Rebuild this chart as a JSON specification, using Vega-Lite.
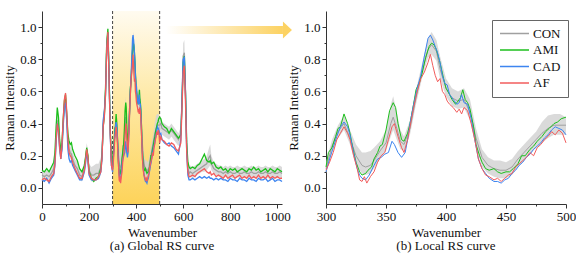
{
  "$schema": "https://vega.github.io/schema/vega-lite/v6.json",
  "autosize": {"type": "pad"},
  "padding": {"left": 3, "top": 10, "right": 0, "bottom": 0},
  "background": "white",
  "config": {
    "view": {"stroke": null},
    "font": "Liberation Serif",
    "axis": {"grid": false, "domainColor": "#333", "tickColor": "#333", "labelFont": "Liberation Serif", "labelFontSize": 13, "labelColor": "#111", "titleFont": "Liberation Serif", "titleFontSize": 13, "titleFontWeight": "normal", "titleColor": "#111", "labelPadding": 2, "titlePadding": 3, "labelOverlap": false, "labelFlush": false},
    "legend": {"labelFont": "Liberation Serif"},
    "title": {"font": "Liberation Serif", "fontSize": 13, "fontWeight": "normal", "color": "#111"}
  },
  "datasets": {
    "spec": [
      {"w":0,"s":"CON","v":0.08,"lo":0.05,"hi":0.11},{"w":10,"s":"CON","v":0.07,"lo":0.04,"hi":0.10},{"w":20,"s":"CON","v":0.08,"lo":0.05,"hi":0.11},{"w":30,"s":"CON","v":0.07,"lo":0.04,"hi":0.10},{"w":40,"s":"CON","v":0.09,"lo":0.06,"hi":0.12},{"w":50,"s":"CON","v":0.12,"lo":0.09,"hi":0.15},{"w":55,"s":"CON","v":0.18,"lo":0.15,"hi":0.21},{"w":60,"s":"CON","v":0.30,"lo":0.26,"hi":0.35},{"w":65,"s":"CON","v":0.42,"lo":0.37,"hi":0.47},{"w":70,"s":"CON","v":0.38,"lo":0.33,"hi":0.43},{"w":75,"s":"CON","v":0.26,"lo":0.22,"hi":0.30},{"w":80,"s":"CON","v":0.20,"lo":0.17,"hi":0.24},{"w":85,"s":"CON","v":0.25,"lo":0.21,"hi":0.29},{"w":90,"s":"CON","v":0.40,"lo":0.36,"hi":0.44},{"w":95,"s":"CON","v":0.52,"lo":0.48,"hi":0.56},{"w":100,"s":"CON","v":0.56,"lo":0.52,"hi":0.60},{"w":105,"s":"CON","v":0.45,"lo":0.41,"hi":0.49},{"w":110,"s":"CON","v":0.30,"lo":0.26,"hi":0.34},{"w":115,"s":"CON","v":0.24,"lo":0.20,"hi":0.28},{"w":120,"s":"CON","v":0.22,"lo":0.18,"hi":0.26},{"w":125,"s":"CON","v":0.21,"lo":0.17,"hi":0.25},{"w":130,"s":"CON","v":0.18,"lo":0.14,"hi":0.22},{"w":140,"s":"CON","v":0.14,"lo":0.10,"hi":0.18},{"w":150,"s":"CON","v":0.12,"lo":0.08,"hi":0.16},{"w":160,"s":"CON","v":0.08,"lo":0.05,"hi":0.12},{"w":170,"s":"CON","v":0.07,"lo":0.04,"hi":0.11},{"w":180,"s":"CON","v":0.12,"lo":0.09,"hi":0.16},{"w":185,"s":"CON","v":0.18,"lo":0.15,"hi":0.22},{"w":190,"s":"CON","v":0.24,"lo":0.21,"hi":0.28},{"w":195,"s":"CON","v":0.20,"lo":0.17,"hi":0.24},{"w":200,"s":"CON","v":0.11,"lo":0.07,"hi":0.15},{"w":210,"s":"CON","v":0.08,"lo":0.04,"hi":0.13},{"w":220,"s":"CON","v":0.08,"lo":0.04,"hi":0.14},{"w":230,"s":"CON","v":0.09,"lo":0.05,"hi":0.15},{"w":240,"s":"CON","v":0.09,"lo":0.05,"hi":0.15},{"w":250,"s":"CON","v":0.13,"lo":0.08,"hi":0.19},{"w":255,"s":"CON","v":0.20,"lo":0.15,"hi":0.26},{"w":260,"s":"CON","v":0.40,"lo":0.35,"hi":0.45},{"w":265,"s":"CON","v":0.46,"lo":0.41,"hi":0.50},{"w":270,"s":"CON","v":0.60,"lo":0.55,"hi":0.65},{"w":275,"s":"CON","v":0.88,"lo":0.84,"hi":0.93},{"w":280,"s":"CON","v":0.97,"lo":0.93,"hi":1.00},{"w":285,"s":"CON","v":0.70,"lo":0.65,"hi":0.75},{"w":290,"s":"CON","v":0.35,"lo":0.31,"hi":0.40},{"w":295,"s":"CON","v":0.16,"lo":0.12,"hi":0.20},
      {"w":300,"s":"CON","v":0.12,"lo":0.09,"hi":0.16},{"w":305,"s":"CON","v":0.26,"lo":0.22,"hi":0.30},{"w":310,"s":"CON","v":0.35,"lo":0.31,"hi":0.39},{"w":315,"s":"CON","v":0.40,"lo":0.36,"hi":0.45},{"w":320,"s":"CON","v":0.31,"lo":0.27,"hi":0.36},{"w":325,"s":"CON","v":0.20,"lo":0.14,"hi":0.27},{"w":330,"s":"CON","v":0.14,"lo":0.09,"hi":0.22},{"w":333,"s":"CON","v":0.13,"lo":0.08,"hi":0.22},{"w":337,"s":"CON","v":0.14,"lo":0.09,"hi":0.23},{"w":340,"s":"CON","v":0.17,"lo":0.12,"hi":0.25},{"w":345,"s":"CON","v":0.23,"lo":0.18,"hi":0.29},{"w":350,"s":"CON","v":0.28,"lo":0.23,"hi":0.36},{"w":354,"s":"CON","v":0.40,"lo":0.32,"hi":0.52},{"w":356,"s":"CON","v":0.44,"lo":0.36,"hi":0.57},{"w":359,"s":"CON","v":0.37,"lo":0.30,"hi":0.47},{"w":362,"s":"CON","v":0.29,"lo":0.24,"hi":0.36},{"w":365,"s":"CON","v":0.27,"lo":0.23,"hi":0.32},{"w":370,"s":"CON","v":0.37,"lo":0.33,"hi":0.42},{"w":375,"s":"CON","v":0.56,"lo":0.52,"hi":0.61},{"w":380,"s":"CON","v":0.72,"lo":0.68,"hi":0.77},{"w":385,"s":"CON","v":0.86,"lo":0.81,"hi":0.93},{"w":388,"s":"CON","v":0.89,"lo":0.83,"hi":0.97},{"w":392,"s":"CON","v":0.85,"lo":0.79,"hi":0.92},{"w":395,"s":"CON","v":0.74,"lo":0.68,"hi":0.82},{"w":400,"s":"CON","v":0.62,"lo":0.57,"hi":0.68},{"w":405,"s":"CON","v":0.56,"lo":0.51,"hi":0.62},{"w":410,"s":"CON","v":0.54,"lo":0.49,"hi":0.60},{"w":415,"s":"CON","v":0.55,"lo":0.50,"hi":0.62},{"w":420,"s":"CON","v":0.47,"lo":0.42,"hi":0.55},{"w":425,"s":"CON","v":0.31,"lo":0.25,"hi":0.37},{"w":430,"s":"CON","v":0.19,"lo":0.13,"hi":0.24},{"w":435,"s":"CON","v":0.14,"lo":0.09,"hi":0.19},{"w":440,"s":"CON","v":0.12,"lo":0.07,"hi":0.17},{"w":445,"s":"CON","v":0.11,"lo":0.06,"hi":0.17},{"w":450,"s":"CON","v":0.11,"lo":0.06,"hi":0.16},{"w":455,"s":"CON","v":0.13,"lo":0.08,"hi":0.18},{"w":460,"s":"CON","v":0.18,"lo":0.13,"hi":0.23},{"w":465,"s":"CON","v":0.22,"lo":0.17,"hi":0.27},{"w":470,"s":"CON","v":0.26,"lo":0.21,"hi":0.31},{"w":475,"s":"CON","v":0.30,"lo":0.25,"hi":0.35},{"w":480,"s":"CON","v":0.34,"lo":0.28,"hi":0.41},{"w":485,"s":"CON","v":0.37,"lo":0.31,"hi":0.45},{"w":490,"s":"CON","v":0.39,"lo":0.33,"hi":0.46},{"w":495,"s":"CON","v":0.39,"lo":0.33,"hi":0.46},{"w":500,"s":"CON","v":0.39,"lo":0.33,"hi":0.44},
      {"w":505,"s":"CON","v":0.40,"lo":0.36,"hi":0.44},{"w":510,"s":"CON","v":0.37,"lo":0.33,"hi":0.41},{"w":520,"s":"CON","v":0.36,"lo":0.32,"hi":0.40},{"w":530,"s":"CON","v":0.35,"lo":0.31,"hi":0.39},{"w":540,"s":"CON","v":0.34,"lo":0.30,"hi":0.38},{"w":550,"s":"CON","v":0.36,"lo":0.32,"hi":0.40},{"w":560,"s":"CON","v":0.34,"lo":0.30,"hi":0.38},{"w":570,"s":"CON","v":0.32,"lo":0.28,"hi":0.36},{"w":580,"s":"CON","v":0.30,"lo":0.26,"hi":0.34},{"w":590,"s":"CON","v":0.34,"lo":0.30,"hi":0.38},{"w":595,"s":"CON","v":0.55,"lo":0.50,"hi":0.60},{"w":600,"s":"CON","v":0.82,"lo":0.76,"hi":0.90},{"w":605,"s":"CON","v":0.84,"lo":0.78,"hi":0.92},{"w":610,"s":"CON","v":0.60,"lo":0.55,"hi":0.66},{"w":615,"s":"CON","v":0.25,"lo":0.21,"hi":0.30},{"w":620,"s":"CON","v":0.12,"lo":0.09,"hi":0.16},{"w":625,"s":"CON","v":0.09,"lo":0.06,"hi":0.13},{"w":630,"s":"CON","v":0.10,"lo":0.07,"hi":0.14},{"w":640,"s":"CON","v":0.09,"lo":0.06,"hi":0.13},{"w":650,"s":"CON","v":0.10,"lo":0.07,"hi":0.14},{"w":660,"s":"CON","v":0.11,"lo":0.08,"hi":0.15},{"w":670,"s":"CON","v":0.12,"lo":0.09,"hi":0.16},{"w":680,"s":"CON","v":0.13,"lo":0.10,"hi":0.17},{"w":690,"s":"CON","v":0.14,"lo":0.10,"hi":0.18},{"w":700,"s":"CON","v":0.15,"lo":0.11,"hi":0.20},{"w":710,"s":"CON","v":0.19,"lo":0.13,"hi":0.25},{"w":715,"s":"CON","v":0.20,"lo":0.14,"hi":0.27},{"w":720,"s":"CON","v":0.15,"lo":0.11,"hi":0.20},{"w":730,"s":"CON","v":0.12,"lo":0.09,"hi":0.16},{"w":740,"s":"CON","v":0.11,"lo":0.08,"hi":0.15},{"w":750,"s":"CON","v":0.10,"lo":0.07,"hi":0.14},{"w":760,"s":"CON","v":0.10,"lo":0.07,"hi":0.14},{"w":770,"s":"CON","v":0.09,"lo":0.06,"hi":0.13},{"w":780,"s":"CON","v":0.10,"lo":0.07,"hi":0.14},{"w":790,"s":"CON","v":0.09,"lo":0.06,"hi":0.13},{"w":800,"s":"CON","v":0.10,"lo":0.07,"hi":0.14},{"w":810,"s":"CON","v":0.09,"lo":0.06,"hi":0.13},{"w":820,"s":"CON","v":0.09,"lo":0.06,"hi":0.13},{"w":830,"s":"CON","v":0.10,"lo":0.07,"hi":0.14},{"w":840,"s":"CON","v":0.09,"lo":0.06,"hi":0.13},{"w":850,"s":"CON","v":0.09,"lo":0.06,"hi":0.13},{"w":860,"s":"CON","v":0.10,"lo":0.07,"hi":0.14},{"w":870,"s":"CON","v":0.09,"lo":0.06,"hi":0.13},{"w":880,"s":"CON","v":0.09,"lo":0.06,"hi":0.13},{"w":890,"s":"CON","v":0.10,"lo":0.07,"hi":0.14},{"w":900,"s":"CON","v":0.09,"lo":0.06,"hi":0.13},{"w":910,"s":"CON","v":0.09,"lo":0.06,"hi":0.13},{"w":920,"s":"CON","v":0.10,"lo":0.07,"hi":0.14},{"w":930,"s":"CON","v":0.09,"lo":0.06,"hi":0.13},{"w":940,"s":"CON","v":0.09,"lo":0.06,"hi":0.13},{"w":950,"s":"CON","v":0.10,"lo":0.07,"hi":0.14},{"w":960,"s":"CON","v":0.09,"lo":0.06,"hi":0.13},{"w":970,"s":"CON","v":0.09,"lo":0.06,"hi":0.13},{"w":980,"s":"CON","v":0.10,"lo":0.07,"hi":0.14},{"w":990,"s":"CON","v":0.09,"lo":0.06,"hi":0.13},{"w":1000,"s":"CON","v":0.09,"lo":0.06,"hi":0.13},{"w":1010,"s":"CON","v":0.10,"lo":0.07,"hi":0.14},{"w":1020,"s":"CON","v":0.09,"lo":0.06,"hi":0.13},

      {"w":0,"s":"AMI","v":0.11},{"w":10,"s":"AMI","v":0.10},{"w":20,"s":"AMI","v":0.12},{"w":30,"s":"AMI","v":0.10},{"w":40,"s":"AMI","v":0.13},{"w":50,"s":"AMI","v":0.16},{"w":55,"s":"AMI","v":0.22},{"w":60,"s":"AMI","v":0.38},{"w":65,"s":"AMI","v":0.50},{"w":70,"s":"AMI","v":0.44},{"w":75,"s":"AMI","v":0.30},{"w":80,"s":"AMI","v":0.23},{"w":85,"s":"AMI","v":0.28},{"w":90,"s":"AMI","v":0.42},{"w":95,"s":"AMI","v":0.54},{"w":100,"s":"AMI","v":0.58},{"w":105,"s":"AMI","v":0.46},{"w":110,"s":"AMI","v":0.34},{"w":115,"s":"AMI","v":0.29},{"w":120,"s":"AMI","v":0.27},{"w":125,"s":"AMI","v":0.28},{"w":130,"s":"AMI","v":0.24},{"w":140,"s":"AMI","v":0.20},{"w":150,"s":"AMI","v":0.17},{"w":160,"s":"AMI","v":0.12},{"w":170,"s":"AMI","v":0.10},{"w":180,"s":"AMI","v":0.14},{"w":185,"s":"AMI","v":0.19},{"w":190,"s":"AMI","v":0.25},{"w":195,"s":"AMI","v":0.20},{"w":200,"s":"AMI","v":0.10},{"w":210,"s":"AMI","v":0.06},{"w":220,"s":"AMI","v":0.04},{"w":230,"s":"AMI","v":0.06},{"w":240,"s":"AMI","v":0.07},{"w":250,"s":"AMI","v":0.12},{"w":255,"s":"AMI","v":0.20},{"w":260,"s":"AMI","v":0.38},{"w":265,"s":"AMI","v":0.45},{"w":270,"s":"AMI","v":0.62},{"w":275,"s":"AMI","v":0.90},{"w":280,"s":"AMI","v":0.99},{"w":285,"s":"AMI","v":0.72},{"w":290,"s":"AMI","v":0.37},{"w":295,"s":"AMI","v":0.17},
      {"w":300,"s":"AMI","v":0.13},{"w":302,"s":"AMI","v":0.22},{"w":305,"s":"AMI","v":0.25},{"w":308,"s":"AMI","v":0.32},{"w":310,"s":"AMI","v":0.37},{"w":312,"s":"AMI","v":0.38},{"w":315,"s":"AMI","v":0.46},{"w":318,"s":"AMI","v":0.40},{"w":320,"s":"AMI","v":0.34},{"w":322,"s":"AMI","v":0.26},{"w":325,"s":"AMI","v":0.16},{"w":328,"s":"AMI","v":0.10},{"w":330,"s":"AMI","v":0.08},{"w":333,"s":"AMI","v":0.09},{"w":335,"s":"AMI","v":0.11},{"w":338,"s":"AMI","v":0.13},{"w":340,"s":"AMI","v":0.18},{"w":343,"s":"AMI","v":0.22},{"w":345,"s":"AMI","v":0.26},{"w":347,"s":"AMI","v":0.27},{"w":350,"s":"AMI","v":0.36},{"w":353,"s":"AMI","v":0.48},{"w":356,"s":"AMI","v":0.53},{"w":358,"s":"AMI","v":0.50},{"w":360,"s":"AMI","v":0.40},{"w":363,"s":"AMI","v":0.30},{"w":365,"s":"AMI","v":0.29},{"w":368,"s":"AMI","v":0.34},{"w":370,"s":"AMI","v":0.40},{"w":373,"s":"AMI","v":0.52},{"w":375,"s":"AMI","v":0.61},{"w":378,"s":"AMI","v":0.66},{"w":380,"s":"AMI","v":0.71},{"w":383,"s":"AMI","v":0.81},{"w":386,"s":"AMI","v":0.88},{"w":388,"s":"AMI","v":0.90},{"w":390,"s":"AMI","v":0.89},{"w":392,"s":"AMI","v":0.86},{"w":395,"s":"AMI","v":0.78},{"w":398,"s":"AMI","v":0.68},{"w":400,"s":"AMI","v":0.62},{"w":403,"s":"AMI","v":0.58},{"w":405,"s":"AMI","v":0.55},{"w":408,"s":"AMI","v":0.52},{"w":410,"s":"AMI","v":0.54},{"w":412,"s":"AMI","v":0.56},{"w":414,"s":"AMI","v":0.61},{"w":416,"s":"AMI","v":0.55},{"w":418,"s":"AMI","v":0.53},{"w":420,"s":"AMI","v":0.49},{"w":423,"s":"AMI","v":0.38},{"w":425,"s":"AMI","v":0.27},{"w":428,"s":"AMI","v":0.20},{"w":430,"s":"AMI","v":0.16},{"w":433,"s":"AMI","v":0.12},{"w":436,"s":"AMI","v":0.11},{"w":440,"s":"AMI","v":0.12},{"w":443,"s":"AMI","v":0.10},{"w":446,"s":"AMI","v":0.09},{"w":450,"s":"AMI","v":0.10},{"w":453,"s":"AMI","v":0.10},{"w":456,"s":"AMI","v":0.12},{"w":460,"s":"AMI","v":0.15},{"w":463,"s":"AMI","v":0.20},{"w":466,"s":"AMI","v":0.20},{"w":470,"s":"AMI","v":0.24},{"w":473,"s":"AMI","v":0.26},{"w":476,"s":"AMI","v":0.29},{"w":480,"s":"AMI","v":0.32},{"w":483,"s":"AMI","v":0.35},{"w":486,"s":"AMI","v":0.37},{"w":490,"s":"AMI","v":0.40},{"w":493,"s":"AMI","v":0.41},{"w":496,"s":"AMI","v":0.43},{"w":500,"s":"AMI","v":0.44},
      {"w":505,"s":"AMI","v":0.43},{"w":510,"s":"AMI","v":0.40},{"w":520,"s":"AMI","v":0.38},{"w":530,"s":"AMI","v":0.37},{"w":540,"s":"AMI","v":0.34},{"w":550,"s":"AMI","v":0.37},{"w":560,"s":"AMI","v":0.35},{"w":570,"s":"AMI","v":0.33},{"w":580,"s":"AMI","v":0.31},{"w":590,"s":"AMI","v":0.33},{"w":595,"s":"AMI","v":0.52},{"w":600,"s":"AMI","v":0.78},{"w":605,"s":"AMI","v":0.82},{"w":610,"s":"AMI","v":0.58},{"w":615,"s":"AMI","v":0.28},{"w":620,"s":"AMI","v":0.16},{"w":625,"s":"AMI","v":0.13},{"w":630,"s":"AMI","v":0.12},{"w":640,"s":"AMI","v":0.13},{"w":650,"s":"AMI","v":0.12},{"w":660,"s":"AMI","v":0.14},{"w":670,"s":"AMI","v":0.15},{"w":680,"s":"AMI","v":0.18},{"w":690,"s":"AMI","v":0.21},{"w":700,"s":"AMI","v":0.17},{"w":710,"s":"AMI","v":0.16},{"w":715,"s":"AMI","v":0.17},{"w":720,"s":"AMI","v":0.15},{"w":730,"s":"AMI","v":0.16},{"w":740,"s":"AMI","v":0.13},{"w":750,"s":"AMI","v":0.12},{"w":760,"s":"AMI","v":0.13},{"w":770,"s":"AMI","v":0.11},{"w":780,"s":"AMI","v":0.12},{"w":790,"s":"AMI","v":0.10},{"w":800,"s":"AMI","v":0.12},{"w":810,"s":"AMI","v":0.11},{"w":820,"s":"AMI","v":0.12},{"w":830,"s":"AMI","v":0.10},{"w":840,"s":"AMI","v":0.11},{"w":850,"s":"AMI","v":0.12},{"w":860,"s":"AMI","v":0.11},{"w":870,"s":"AMI","v":0.10},{"w":880,"s":"AMI","v":0.12},{"w":890,"s":"AMI","v":0.11},{"w":900,"s":"AMI","v":0.13},{"w":910,"s":"AMI","v":0.11},{"w":920,"s":"AMI","v":0.12},{"w":930,"s":"AMI","v":0.10},{"w":940,"s":"AMI","v":0.11},{"w":950,"s":"AMI","v":0.12},{"w":960,"s":"AMI","v":0.10},{"w":970,"s":"AMI","v":0.12},{"w":980,"s":"AMI","v":0.11},{"w":990,"s":"AMI","v":0.10},{"w":1000,"s":"AMI","v":0.12},{"w":1010,"s":"AMI","v":0.11},{"w":1020,"s":"AMI","v":0.10},

      {"w":0,"s":"CAD","v":0.05},{"w":10,"s":"CAD","v":0.04},{"w":20,"s":"CAD","v":0.06},{"w":30,"s":"CAD","v":0.03},{"w":40,"s":"CAD","v":0.06},{"w":50,"s":"CAD","v":0.08},{"w":55,"s":"CAD","v":0.14},{"w":60,"s":"CAD","v":0.28},{"w":65,"s":"CAD","v":0.40},{"w":70,"s":"CAD","v":0.36},{"w":75,"s":"CAD","v":0.24},{"w":80,"s":"CAD","v":0.18},{"w":85,"s":"CAD","v":0.24},{"w":90,"s":"CAD","v":0.38},{"w":95,"s":"CAD","v":0.50},{"w":100,"s":"CAD","v":0.53},{"w":105,"s":"CAD","v":0.42},{"w":110,"s":"CAD","v":0.24},{"w":115,"s":"CAD","v":0.18},{"w":120,"s":"CAD","v":0.16},{"w":125,"s":"CAD","v":0.17},{"w":130,"s":"CAD","v":0.14},{"w":140,"s":"CAD","v":0.11},{"w":150,"s":"CAD","v":0.08},{"w":160,"s":"CAD","v":0.05},{"w":170,"s":"CAD","v":0.05},{"w":180,"s":"CAD","v":0.10},{"w":185,"s":"CAD","v":0.15},{"w":190,"s":"CAD","v":0.22},{"w":195,"s":"CAD","v":0.17},{"w":200,"s":"CAD","v":0.08},{"w":210,"s":"CAD","v":0.05},{"w":220,"s":"CAD","v":0.05},{"w":230,"s":"CAD","v":0.05},{"w":240,"s":"CAD","v":0.06},{"w":250,"s":"CAD","v":0.10},{"w":255,"s":"CAD","v":0.18},{"w":260,"s":"CAD","v":0.42},{"w":265,"s":"CAD","v":0.48},{"w":270,"s":"CAD","v":0.58},{"w":275,"s":"CAD","v":0.86},{"w":280,"s":"CAD","v":0.96},{"w":285,"s":"CAD","v":0.70},{"w":290,"s":"CAD","v":0.33},{"w":295,"s":"CAD","v":0.14},
      {"w":300,"s":"CAD","v":0.10},{"w":303,"s":"CAD","v":0.18},{"w":306,"s":"CAD","v":0.25},{"w":309,"s":"CAD","v":0.32},{"w":312,"s":"CAD","v":0.38},{"w":315,"s":"CAD","v":0.41},{"w":318,"s":"CAD","v":0.38},{"w":320,"s":"CAD","v":0.33},{"w":323,"s":"CAD","v":0.22},{"w":326,"s":"CAD","v":0.12},{"w":328,"s":"CAD","v":0.08},{"w":330,"s":"CAD","v":0.06},{"w":333,"s":"CAD","v":0.05},{"w":336,"s":"CAD","v":0.08},{"w":340,"s":"CAD","v":0.14},{"w":343,"s":"CAD","v":0.18},{"w":346,"s":"CAD","v":0.19},{"w":349,"s":"CAD","v":0.21},{"w":352,"s":"CAD","v":0.22},{"w":355,"s":"CAD","v":0.29},{"w":357,"s":"CAD","v":0.27},{"w":360,"s":"CAD","v":0.22},{"w":363,"s":"CAD","v":0.19},{"w":366,"s":"CAD","v":0.22},{"w":368,"s":"CAD","v":0.30},{"w":370,"s":"CAD","v":0.40},{"w":373,"s":"CAD","v":0.52},{"w":376,"s":"CAD","v":0.62},{"w":379,"s":"CAD","v":0.70},{"w":382,"s":"CAD","v":0.82},{"w":385,"s":"CAD","v":0.93},{"w":387,"s":"CAD","v":0.95},{"w":389,"s":"CAD","v":0.92},{"w":391,"s":"CAD","v":0.88},{"w":393,"s":"CAD","v":0.84},{"w":395,"s":"CAD","v":0.78},{"w":397,"s":"CAD","v":0.70},{"w":399,"s":"CAD","v":0.65},{"w":401,"s":"CAD","v":0.64},{"w":403,"s":"CAD","v":0.58},{"w":406,"s":"CAD","v":0.55},{"w":409,"s":"CAD","v":0.52},{"w":411,"s":"CAD","v":0.53},{"w":413,"s":"CAD","v":0.58},{"w":415,"s":"CAD","v":0.53},{"w":418,"s":"CAD","v":0.52},{"w":421,"s":"CAD","v":0.43},{"w":424,"s":"CAD","v":0.30},{"w":427,"s":"CAD","v":0.18},{"w":430,"s":"CAD","v":0.12},{"w":433,"s":"CAD","v":0.09},{"w":436,"s":"CAD","v":0.06},{"w":440,"s":"CAD","v":0.04},{"w":443,"s":"CAD","v":0.04},{"w":446,"s":"CAD","v":0.03},{"w":449,"s":"CAD","v":0.05},{"w":452,"s":"CAD","v":0.06},{"w":455,"s":"CAD","v":0.09},{"w":458,"s":"CAD","v":0.11},{"w":461,"s":"CAD","v":0.14},{"w":464,"s":"CAD","v":0.16},{"w":467,"s":"CAD","v":0.19},{"w":470,"s":"CAD","v":0.21},{"w":473,"s":"CAD","v":0.24},{"w":476,"s":"CAD","v":0.26},{"w":479,"s":"CAD","v":0.28},{"w":482,"s":"CAD","v":0.31},{"w":485,"s":"CAD","v":0.33},{"w":488,"s":"CAD","v":0.36},{"w":491,"s":"CAD","v":0.38},{"w":494,"s":"CAD","v":0.37},{"w":497,"s":"CAD","v":0.36},{"w":500,"s":"CAD","v":0.33},
      {"w":505,"s":"CAD","v":0.34},{"w":510,"s":"CAD","v":0.30},{"w":520,"s":"CAD","v":0.28},{"w":530,"s":"CAD","v":0.27},{"w":540,"s":"CAD","v":0.28},{"w":550,"s":"CAD","v":0.26},{"w":560,"s":"CAD","v":0.25},{"w":570,"s":"CAD","v":0.23},{"w":580,"s":"CAD","v":0.21},{"w":590,"s":"CAD","v":0.30},{"w":595,"s":"CAD","v":0.55},{"w":600,"s":"CAD","v":0.80},{"w":605,"s":"CAD","v":0.81},{"w":610,"s":"CAD","v":0.58},{"w":615,"s":"CAD","v":0.22},{"w":620,"s":"CAD","v":0.08},{"w":625,"s":"CAD","v":0.05},{"w":630,"s":"CAD","v":0.05},{"w":640,"s":"CAD","v":0.06},{"w":650,"s":"CAD","v":0.05},{"w":660,"s":"CAD","v":0.06},{"w":670,"s":"CAD","v":0.07},{"w":680,"s":"CAD","v":0.06},{"w":690,"s":"CAD","v":0.07},{"w":700,"s":"CAD","v":0.06},{"w":710,"s":"CAD","v":0.07},{"w":715,"s":"CAD","v":0.06},{"w":720,"s":"CAD","v":0.06},{"w":730,"s":"CAD","v":0.05},{"w":740,"s":"CAD","v":0.06},{"w":750,"s":"CAD","v":0.05},{"w":760,"s":"CAD","v":0.06},{"w":770,"s":"CAD","v":0.05},{"w":780,"s":"CAD","v":0.05},{"w":790,"s":"CAD","v":0.04},{"w":800,"s":"CAD","v":0.06},{"w":810,"s":"CAD","v":0.05},{"w":820,"s":"CAD","v":0.05},{"w":830,"s":"CAD","v":0.04},{"w":840,"s":"CAD","v":0.06},{"w":850,"s":"CAD","v":0.05},{"w":860,"s":"CAD","v":0.05},{"w":870,"s":"CAD","v":0.04},{"w":880,"s":"CAD","v":0.06},{"w":890,"s":"CAD","v":0.05},{"w":900,"s":"CAD","v":0.05},{"w":910,"s":"CAD","v":0.04},{"w":920,"s":"CAD","v":0.06},{"w":930,"s":"CAD","v":0.05},{"w":940,"s":"CAD","v":0.05},{"w":950,"s":"CAD","v":0.06},{"w":960,"s":"CAD","v":0.04},{"w":970,"s":"CAD","v":0.05},{"w":980,"s":"CAD","v":0.06},{"w":990,"s":"CAD","v":0.04},{"w":1000,"s":"CAD","v":0.05},{"w":1010,"s":"CAD","v":0.05},{"w":1020,"s":"CAD","v":0.04},

      {"w":0,"s":"AF","v":0.05},{"w":10,"s":"AF","v":0.06},{"w":20,"s":"AF","v":0.05},{"w":30,"s":"AF","v":0.04},{"w":40,"s":"AF","v":0.07},{"w":50,"s":"AF","v":0.09},{"w":55,"s":"AF","v":0.15},{"w":60,"s":"AF","v":0.30},{"w":65,"s":"AF","v":0.40},{"w":70,"s":"AF","v":0.36},{"w":75,"s":"AF","v":0.25},{"w":80,"s":"AF","v":0.18},{"w":85,"s":"AF","v":0.27},{"w":90,"s":"AF","v":0.42},{"w":95,"s":"AF","v":0.55},{"w":100,"s":"AF","v":0.59},{"w":105,"s":"AF","v":0.48},{"w":110,"s":"AF","v":0.30},{"w":115,"s":"AF","v":0.22},{"w":120,"s":"AF","v":0.20},{"w":125,"s":"AF","v":0.19},{"w":130,"s":"AF","v":0.16},{"w":140,"s":"AF","v":0.12},{"w":150,"s":"AF","v":0.09},{"w":160,"s":"AF","v":0.06},{"w":170,"s":"AF","v":0.06},{"w":180,"s":"AF","v":0.11},{"w":185,"s":"AF","v":0.17},{"w":190,"s":"AF","v":0.24},{"w":195,"s":"AF","v":0.19},{"w":200,"s":"AF","v":0.09},{"w":210,"s":"AF","v":0.06},{"w":220,"s":"AF","v":0.05},{"w":230,"s":"AF","v":0.05},{"w":240,"s":"AF","v":0.07},{"w":250,"s":"AF","v":0.10},{"w":255,"s":"AF","v":0.19},{"w":260,"s":"AF","v":0.38},{"w":265,"s":"AF","v":0.44},{"w":270,"s":"AF","v":0.58},{"w":275,"s":"AF","v":0.86},{"w":280,"s":"AF","v":0.97},{"w":285,"s":"AF","v":0.68},{"w":290,"s":"AF","v":0.34},{"w":295,"s":"AF","v":0.14},
      {"w":300,"s":"AF","v":0.11},{"w":303,"s":"AF","v":0.16},{"w":306,"s":"AF","v":0.22},{"w":309,"s":"AF","v":0.30},{"w":312,"s":"AF","v":0.34},{"w":315,"s":"AF","v":0.38},{"w":318,"s":"AF","v":0.34},{"w":320,"s":"AF","v":0.30},{"w":323,"s":"AF","v":0.20},{"w":326,"s":"AF","v":0.12},{"w":328,"s":"AF","v":0.05},{"w":330,"s":"AF","v":0.04},{"w":332,"s":"AF","v":0.07},{"w":334,"s":"AF","v":0.03},{"w":337,"s":"AF","v":0.07},{"w":340,"s":"AF","v":0.10},{"w":343,"s":"AF","v":0.16},{"w":346,"s":"AF","v":0.20},{"w":349,"s":"AF","v":0.22},{"w":352,"s":"AF","v":0.30},{"w":355,"s":"AF","v":0.38},{"w":357,"s":"AF","v":0.40},{"w":360,"s":"AF","v":0.32},{"w":363,"s":"AF","v":0.25},{"w":365,"s":"AF","v":0.22},{"w":368,"s":"AF","v":0.30},{"w":370,"s":"AF","v":0.38},{"w":373,"s":"AF","v":0.50},{"w":376,"s":"AF","v":0.60},{"w":379,"s":"AF","v":0.68},{"w":382,"s":"AF","v":0.72},{"w":385,"s":"AF","v":0.78},{"w":387,"s":"AF","v":0.83},{"w":389,"s":"AF","v":0.76},{"w":391,"s":"AF","v":0.70},{"w":393,"s":"AF","v":0.66},{"w":395,"s":"AF","v":0.68},{"w":397,"s":"AF","v":0.60},{"w":399,"s":"AF","v":0.58},{"w":401,"s":"AF","v":0.54},{"w":403,"s":"AF","v":0.52},{"w":406,"s":"AF","v":0.50},{"w":409,"s":"AF","v":0.47},{"w":411,"s":"AF","v":0.49},{"w":413,"s":"AF","v":0.46},{"w":415,"s":"AF","v":0.50},{"w":418,"s":"AF","v":0.48},{"w":421,"s":"AF","v":0.40},{"w":424,"s":"AF","v":0.30},{"w":427,"s":"AF","v":0.18},{"w":430,"s":"AF","v":0.12},{"w":433,"s":"AF","v":0.08},{"w":436,"s":"AF","v":0.07},{"w":440,"s":"AF","v":0.05},{"w":443,"s":"AF","v":0.06},{"w":446,"s":"AF","v":0.04},{"w":449,"s":"AF","v":0.06},{"w":452,"s":"AF","v":0.08},{"w":455,"s":"AF","v":0.09},{"w":458,"s":"AF","v":0.13},{"w":461,"s":"AF","v":0.15},{"w":464,"s":"AF","v":0.17},{"w":467,"s":"AF","v":0.19},{"w":470,"s":"AF","v":0.22},{"w":473,"s":"AF","v":0.20},{"w":476,"s":"AF","v":0.25},{"w":479,"s":"AF","v":0.27},{"w":482,"s":"AF","v":0.30},{"w":485,"s":"AF","v":0.32},{"w":488,"s":"AF","v":0.35},{"w":491,"s":"AF","v":0.33},{"w":494,"s":"AF","v":0.36},{"w":497,"s":"AF","v":0.34},{"w":500,"s":"AF","v":0.28},
      {"w":505,"s":"AF","v":0.32},{"w":510,"s":"AF","v":0.30},{"w":520,"s":"AF","v":0.29},{"w":530,"s":"AF","v":0.27},{"w":540,"s":"AF","v":0.26},{"w":550,"s":"AF","v":0.28},{"w":560,"s":"AF","v":0.27},{"w":570,"s":"AF","v":0.24},{"w":580,"s":"AF","v":0.23},{"w":590,"s":"AF","v":0.28},{"w":595,"s":"AF","v":0.50},{"w":600,"s":"AF","v":0.72},{"w":605,"s":"AF","v":0.76},{"w":610,"s":"AF","v":0.52},{"w":615,"s":"AF","v":0.22},{"w":620,"s":"AF","v":0.10},{"w":625,"s":"AF","v":0.07},{"w":630,"s":"AF","v":0.07},{"w":640,"s":"AF","v":0.08},{"w":650,"s":"AF","v":0.07},{"w":660,"s":"AF","v":0.09},{"w":670,"s":"AF","v":0.10},{"w":680,"s":"AF","v":0.11},{"w":690,"s":"AF","v":0.12},{"w":700,"s":"AF","v":0.10},{"w":710,"s":"AF","v":0.09},{"w":715,"s":"AF","v":0.10},{"w":720,"s":"AF","v":0.08},{"w":730,"s":"AF","v":0.09},{"w":740,"s":"AF","v":0.07},{"w":750,"s":"AF","v":0.08},{"w":760,"s":"AF","v":0.07},{"w":770,"s":"AF","v":0.06},{"w":780,"s":"AF","v":0.08},{"w":790,"s":"AF","v":0.06},{"w":800,"s":"AF","v":0.07},{"w":810,"s":"AF","v":0.08},{"w":820,"s":"AF","v":0.06},{"w":830,"s":"AF","v":0.07},{"w":840,"s":"AF","v":0.08},{"w":850,"s":"AF","v":0.06},{"w":860,"s":"AF","v":0.07},{"w":870,"s":"AF","v":0.06},{"w":880,"s":"AF","v":0.08},{"w":890,"s":"AF","v":0.06},{"w":900,"s":"AF","v":0.07},{"w":910,"s":"AF","v":0.06},{"w":920,"s":"AF","v":0.08},{"w":930,"s":"AF","v":0.06},{"w":940,"s":"AF","v":0.07},{"w":950,"s":"AF","v":0.06},{"w":960,"s":"AF","v":0.08},{"w":970,"s":"AF","v":0.06},{"w":980,"s":"AF","v":0.07},{"w":990,"s":"AF","v":0.06},{"w":1000,"s":"AF","v":0.07},{"w":1010,"s":"AF","v":0.06},{"w":1020,"s":"AF","v":0.06}
    ]
  },
  "bounds": "flush",
  "spacing": 44,
  "resolve": {"legend": {"color": "independent"}},
  "hconcat": [
    {
      "width": 240, "height": 193,
      "title": {"text": "(a) Global RS curve", "orient": "bottom", "offset": 1, "font": "Liberation Serif"},
      "layer": [
        {
          "data": {"values": [{"a": 300, "b": 500}]},
          "mark": {"type": "rect", "fill": {"gradient": "linear", "x1": 0, "y1": 0, "x2": 0, "y2": 1, "stops": [{"offset": 0, "color": "#fffbf0"}, {"offset": 0.45, "color": "#fee9a6"}, {"offset": 1, "color": "#fdd35a"}]}},
          "encoding": {"x": {"field": "a", "type": "quantitative", "scale": {"domain": [0, 1020], "nice": false}}, "x2": {"field": "b"}}
        },
        {
          "mark": {"type": "rule", "color": "#444", "strokeDash": [3, 2], "strokeWidth": 1},
          "data": {"values": [{"b": 300}, {"b": 500}]},
          "encoding": {"x": {"field": "b", "type": "quantitative"}}
        },
        {
          "data": {"values": [{"x1": 527, "x2": 1024, "y1": 1.007, "y2": 0.957}]},
          "mark": {"type": "rect", "fill": {"gradient": "linear", "x1": 0, "y1": 0, "x2": 1, "y2": 0, "stops": [{"offset": 0, "color": "#ffffff"}, {"offset": 1, "color": "#fcd262"}]}},
          "encoding": {"x": {"field": "x1", "type": "quantitative"}, "x2": {"field": "x2"}, "y": {"field": "y1", "type": "quantitative"}, "y2": {"field": "y2"}}
        },
        {
          "data": {"values": [{"x": 1043, "y": 0.982}]},
          "mark": {"type": "point", "shape": "M -0.5 -0.95 L 0.5 0 L -0.5 0.95 Z", "size": 324, "filled": true, "color": "#fcd262", "opacity": 1},
          "encoding": {"x": {"field": "x", "type": "quantitative"}, "y": {"field": "y", "type": "quantitative"}}
        },
        {
          "data": {"name": "spec"},
          "transform": [{"filter": "datum.s == 'CON'"}],
          "mark": {"type": "area", "color": "#d4d4d4", "opacity": 0.85},
          "encoding": {
            "x": {"field": "w", "type": "quantitative"},
            "y": {"field": "lo", "type": "quantitative"},
            "y2": {"field": "hi"}
          }
        },
        {
          "data": {"name": "spec"},
          "mark": {"type": "line", "strokeWidth": 1.3},
          "encoding": {
            "x": {"field": "w", "type": "quantitative", "title": "Wavenumber", "scale": {"domain": [0, 1020], "nice": false},
              "axis": {"values": [0,100,200,300,400,500,600,700,800,900,1000], "tickCount": 50, "format": "d", "labelOverlap": false, "labelFont": "Liberation Serif", "titleFont": "Liberation Serif", "labelExpr": "datum.value % 200 == 0 ? datum.label : ''", "tickSize": {"condition": {"test": "datum.value % 200 == 0", "value": 4}, "value": 2}}},
            "y": {"field": "v", "type": "quantitative", "title": "Raman Intensity", "scale": {"domain": [-0.1, 1.1], "nice": false},
              "axis": {"values": [0,0.1,0.2,0.3,0.4,0.5,0.6,0.7,0.8,0.9,1.0], "tickCount": 50, "labelOverlap": false, "labelFont": "Liberation Serif", "titleFont": "Liberation Serif", "format": ".1f", "labelExpr": "round(datum.value*10) % 2 == 0 ? datum.label : ''", "tickSize": {"condition": {"test": "round(datum.value*10) % 2 == 0", "value": 4}, "value": 2}}},
            "color": {"field": "s", "type": "nominal", "sort": ["CON","AMI","CAD","AF"], "scale": {"domain": ["CON","AMI","CAD","AF"], "range": ["#a0a0a0","#1cbf1c","#3d85f0","#f25c5c"]}, "legend": null}
          }
        }
      ]
    },
    {
      "width": 240, "height": 193,
      "title": {"text": "(b) Local RS curve", "orient": "bottom", "offset": 1, "font": "Liberation Serif"},
      "data": {"name": "spec"},
      "transform": [{"filter": "datum.w >= 300 && datum.w <= 500"}],
      "layer": [
        {
          "transform": [{"filter": "datum.s == 'CON'"}],
          "mark": {"type": "area", "color": "#d4d4d4", "opacity": 0.85},
          "encoding": {
            "x": {"field": "w", "type": "quantitative", "scale": {"domain": [300, 500], "nice": false}},
            "y": {"field": "lo", "type": "quantitative", "scale": {"domain": [-0.1, 1.1], "nice": false}},
            "y2": {"field": "hi"}
          }
        },
        {
          "mark": {"type": "line", "strokeWidth": 1},
          "encoding": {
            "x": {"field": "w", "type": "quantitative", "title": "Wavenumber", "scale": {"domain": [300, 500], "nice": false},
              "axis": {"values": [300,325,350,375,400,425,450,475,500], "tickCount": 50, "format": "d", "labelOverlap": false, "labelFont": "Liberation Serif", "titleFont": "Liberation Serif", "labelExpr": "datum.value % 50 == 0 ? datum.label : ''", "tickSize": {"condition": {"test": "datum.value % 50 == 0", "value": 4}, "value": 2}}},
            "y": {"field": "v", "type": "quantitative", "title": "Raman Intensity", "scale": {"domain": [-0.1, 1.1], "nice": false},
              "axis": {"values": [0,0.1,0.2,0.3,0.4,0.5,0.6,0.7,0.8,0.9,1.0], "tickCount": 50, "labelOverlap": false, "labelFont": "Liberation Serif", "titleFont": "Liberation Serif", "format": ".1f", "labelExpr": "round(datum.value*10) % 2 == 0 ? datum.label : ''", "tickSize": {"condition": {"test": "round(datum.value*10) % 2 == 0", "value": 4}, "value": 2}}},
            "color": {"field": "s", "type": "nominal", "sort": ["CON","AMI","CAD","AF"], "scale": {"domain": ["CON","AMI","CAD","AF"], "range": ["#a0a0a0","#1cbf1c","#3d85f0","#f25c5c"]},
              "legend": {"title": null, "orient": "none", "legendX": 166, "legendY": 9, "symbolType": "stroke", "symbolSize": 841, "symbolStrokeWidth": 1.5, "clipHeight": 13, "labelFont": "Liberation Serif", "labelFontSize": 13, "labelColor": "#111", "labelOffset": 3, "rowPadding": 2.5, "padding": 7, "strokeColor": "#666", "fillColor": "white", "cornerRadius": 0}}
          }
        }
      ]
    }
  ]
}
